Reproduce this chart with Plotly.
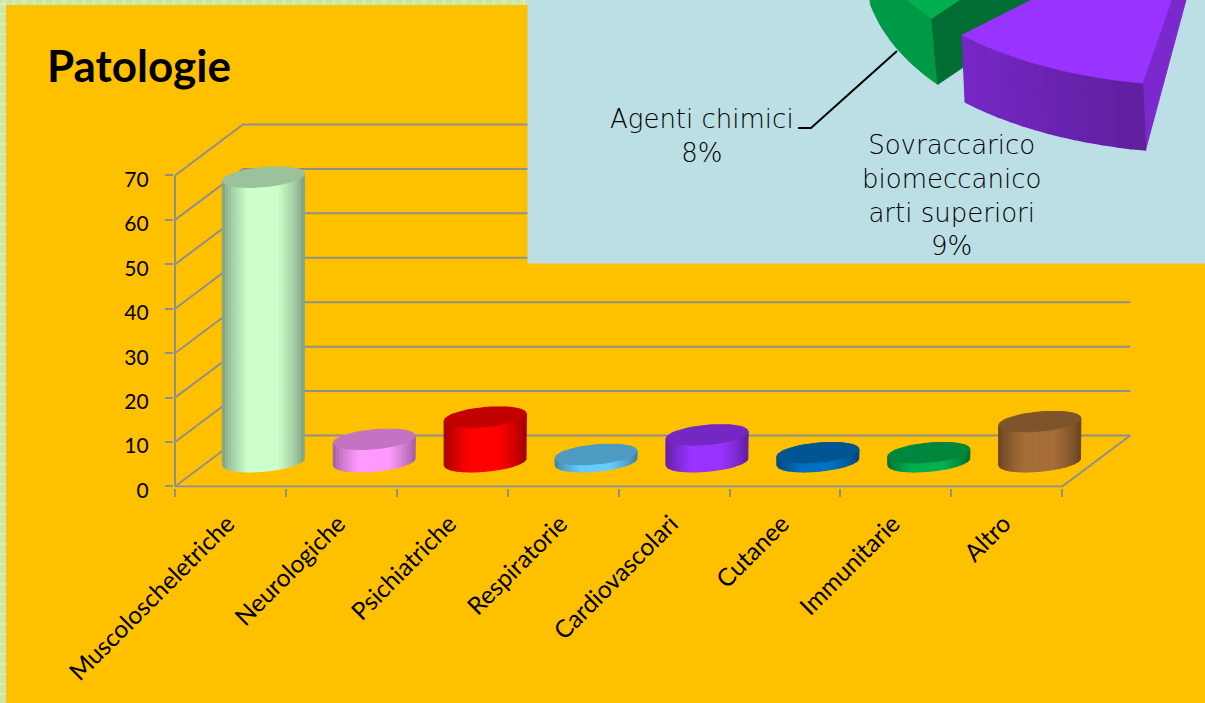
import math
import plotly.graph_objects as go

# --- chart data
categories = ["Muscoloscheletriche", "Neurologiche", "Psichiatriche", "Respiratorie",
              "Cardiovascolari", "Cutanee", "Immunitarie", "Altro"]
values = [64, 5, 10, 1.6, 6, 2, 2, 9]
colors = ["#CCFFCC", "#FF99FF", "#FF0000", "#66CCFF", "#9933FF", "#0070C0", "#00B050", "#A66E38"]
y_ticks = [0, 10, 20, 30, 40, 50, 60, 70]

pie_labels = ["Agenti chimici<br>8%", "Sovraccarico<br>biomeccanico<br>arti superiori<br>9%"]
pie_shares = [8, 9]

W, H = 1205, 703
ORANGE = "#FFC000"
GRID = "#8F8F8F"

# pixel frame of the 3D box
X0, Y0 = 175.0, 486.5
PX_X, PX_Y = 110.9, 4.443
DEPTH_X, DEPTH_Y = 68 / PX_X, 51 / PX_Y
x_rng = [-0.01, 8.72]
y_rng = [-0.25, 82.8]

dom_x = [(X0 + x_rng[0] * PX_X) / W, (X0 + x_rng[1] * PX_X) / W]
dom_y = [1 - (Y0 - y_rng[0] * PX_Y) / H, 1 - (Y0 - y_rng[1] * PX_Y) / H]


def shade(hex_color, f):
    r, g, b = (int(hex_color[i:i + 2], 16) for i in (1, 3, 5))
    return f"rgb({r * f:.0f},{g * f:.0f},{b * f:.0f})"


fig = go.Figure()


def line(xs, ys, color=GRID, width=2, xa="x", ya="y"):
    fig.add_trace(go.Scatter(x=xs, y=ys, mode="lines", xaxis=xa, yaxis=ya,
                             line=dict(color=color, width=width),
                             hoverinfo="skip", showlegend=False))


def poly(xs, ys, color, xa="x", ya="y", lw=1.0):
    fig.add_trace(go.Scatter(x=xs, y=ys, mode="lines", fill="toself", fillcolor=color,
                             xaxis=xa, yaxis=ya, line=dict(color=color, width=lw),
                             hoverinfo="skip", showlegend=False))


# walls and floor
n_cat = len(categories)
for v in y_ticks:
    line([0, DEPTH_X, n_cat + DEPTH_X], [v, v + DEPTH_Y, v + DEPTH_Y])
line([0, 0], [0, y_ticks[-1]])
line([0, n_cat, n_cat + DEPTH_X], [0, 0, DEPTH_Y])

# cylinders
A = 38.5 / PX_X
B = 14.2 / PX_X
C = 10.3 / PX_Y
T0 = math.atan2(B, A)
N_STRIPS = 26
BAR_SHIFT = -1.5 / PX_X


def ell(cx, cy, t):
    return cx + A * math.cos(t) + B * math.sin(t), cy + C * math.sin(t)


def x_frac_to_t(s):
    # position across the visible width -> ellipse parameter on the front half
    return T0 + math.pi + math.acos(1 - 2 * s)


for i, (v, col) in enumerate(zip(values, colors)):
    cx = i + 0.5 + 34.5 / PX_X + BAR_SHIFT
    by = 25 / PX_Y
    ty = by + v
    for k in range(N_STRIPS):
        t1 = x_frac_to_t(k / N_STRIPS)
        t2 = x_frac_to_t((k + 1) / N_STRIPS)
        ts = [t1 + (t2 - t1) * j / 3 for j in range(4)]
        s = (k + 0.5) / N_STRIPS
        f = 0.6 + 0.4 * min(1.0, min(s, 1 - s) / 0.32) ** 0.7
        top = [ell(cx, ty, t) for t in ts]
        bot = [ell(cx, by, t) for t in reversed(ts)]
        pts = top + bot + top[:1]
        poly([p[0] for p in pts], [p[1] for p in pts], shade(col, f), lw=1.2)
    pts = [ell(cx, ty, 2 * math.pi * j / 60) for j in range(61)]
    poly([p[0] for p in pts], [p[1] for p in pts], shade(col, 0.76))

# inset panel, in pixel axes drawn above the main plot
poly([528, W, W, 528, 528], [-2, -2, 263, 263, -2], "#BBDFE4", "x2", "y2")

DEG_PER_SHARE = 3.9


def arc(ax, ay, a, b, d1, d2, n=14, off=(0, 0)):
    out = []
    for j in range(n + 1):
        d = math.radians(d1 + (d2 - d1) * j / n)
        out.append((ax + a * math.sin(d) + off[0], ay + b * math.cos(d) + off[1]))
    return out


def draw(pts, color, lw=1.0):
    pts = pts + pts[:1]
    poly([p[0] for p in pts], [p[1] for p in pts], color, "x2", "y2", lw)


# green slice (8 %)
g_apex = (1112, -103)
g_off = (6, 66)
g_start, g_end = -45, -45 - pie_shares[0] * DEG_PER_SHARE
g_top = arc(*g_apex, 255, 171.6, g_start, g_end)
g_bot = arc(*g_apex, 255, 171.6, g_start, g_end, off=g_off)
draw(g_top + g_bot[::-1], "#009A46")
draw([g_top[0], (g_apex[0], g_apex[1]), (g_apex[0] + g_off[0], g_apex[1] + g_off[1]), g_bot[0]], "#006E33")
draw(g_top + [g_apex], "#00B050")

# purple slice (9 %)
p_apex = (1201, -86)
p_off = (3, 67)
p_start, p_end = -10, -10 - pie_shares[1] * DEG_PER_SHARE
p_top = arc(*p_apex, 337, 171.6, p_start, p_end)
p_bot = arc(*p_apex, 337, 171.6, p_start, p_end, off=p_off)
draw([p_top[0], p_apex, (p_apex[0] - 7, p_apex[1] + 56), p_bot[0]], "#7B28CC")
n = len(p_top) - 1
for j in range(n):
    f = 0.62 + 0.16 * (j + 0.5) / n
    draw([p_top[j], p_top[j + 1], p_bot[j + 1], p_bot[j]], shade("#9933FF", f), 1.5)
draw(p_top + [p_apex], "#9933FF")

# leader line
line([798, 811, 897], [128, 128, 51], color="#000000", width=2, xa="x2", ya="y2")

# page background: pale green border and orange field
shapes = [dict(type="rect", xref="paper", yref="paper", x0=6 / W, x1=1, y0=0, y1=1 - 5 / H,
               fillcolor=ORANGE, line_width=0, layer="below")]
for px in range(4, W, 10):
    shapes.append(dict(type="line", xref="paper", yref="paper", x0=px / W, x1=px / W,
                       y0=1 - 5 / H, y1=1, line=dict(color="#E6F4C8", width=1), layer="below"))
for py in range(4, H, 10):
    shapes.append(dict(type="line", xref="paper", yref="paper", x0=0, x1=6 / W,
                       y0=1 - py / H, y1=1 - py / H, line=dict(color="#E6F4C8", width=1), layer="below"))

PIE_FONT = dict(family="DejaVu Sans", size=26, weight=200, color="#000000")
annotations = [
    dict(text=pie_labels[0], x=702, y=136, xref="x2", yref="y2", showarrow=False, font=PIE_FONT,
         xanchor="center", yanchor="middle", align="center"),
    dict(text=pie_labels[1], x=951, y=195, xref="x2", yref="y2", showarrow=False, font=PIE_FONT,
         xanchor="center", yanchor="middle", align="center"),
]

fig.update_layout(
    width=W, height=H, autosize=False,
    margin=dict(l=0, r=0, t=0, b=0),
    paper_bgcolor="#CDE8A2", plot_bgcolor="rgba(0,0,0,0)",
    showlegend=False, shapes=shapes, annotations=annotations,
    font=dict(family="Lato", color="#000000"),
    title=dict(text="<b>Patologie</b>", x=47 / W, y=1 - 67 / H, xanchor="left", yanchor="middle",
               font=dict(family="Lato", size=44, color="#000000")),
    xaxis=dict(domain=dom_x, range=x_rng, anchor="y", automargin=False, showgrid=False, zeroline=False,
               showline=False, tickmode="array", tickvals=[i + 0.5 for i in range(n_cat)],
               ticktext=categories, tickangle=-45, ticks="", ticklabelstandoff=16, ticklabelshift=-3,
               tickfont=dict(family="Lato", size=24.5, color="#000000"),
               minor=dict(tickmode="array", tickvals=list(range(n_cat + 1)), ticks="outside",
                          ticklen=8, tickwidth=2, tickcolor=GRID, showgrid=False)),
    yaxis=dict(domain=dom_y, range=y_rng, anchor="x", automargin=False, showgrid=False, zeroline=False,
               showline=False, tickmode="array", tickvals=y_ticks, ticks="outside", ticklen=8, tickwidth=2,
               tickcolor=GRID, ticklabelstandoff=12, ticklabelshift=4,
               tickfont=dict(family="Lato", size=21, color="#000000")),
    xaxis2=dict(domain=[0, 1], range=[0, W], anchor="y2", visible=False, automargin=False),
    yaxis2=dict(domain=[0, 1], range=[H, 0], anchor="x2", visible=False, automargin=False),
)

fig.write_html("out.html", config=dict(displayModeBar=False, responsive=False),
               post_script="document.body.style.margin='0';document.body.style.overflow='hidden';")
